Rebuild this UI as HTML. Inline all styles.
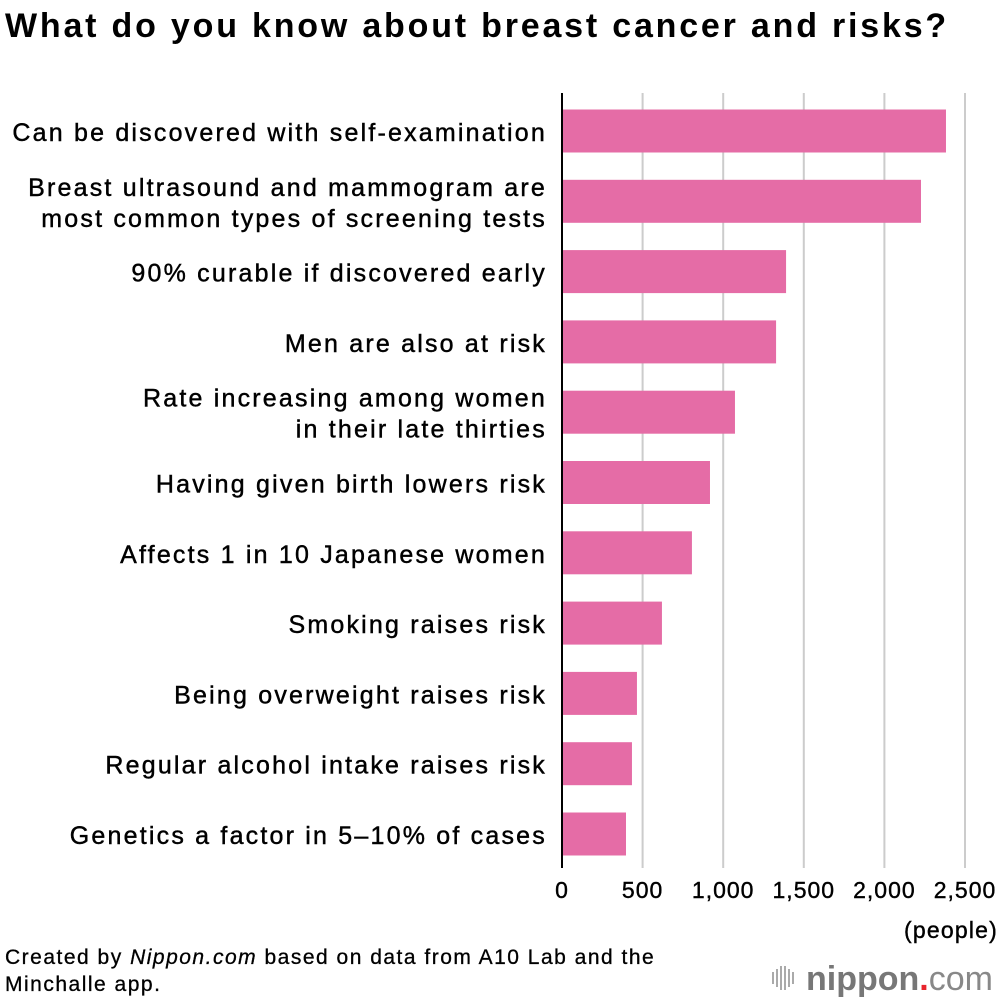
<!DOCTYPE html>
<html><head><meta charset="utf-8"><style>
body{margin:0;background:#fff;}
svg{display:block;font-family:"Liberation Sans",Arial,sans-serif;}
.lbl{font-size:25px;letter-spacing:2.2px;stroke:#000;stroke-width:0.45px;}
</style></head><body>
<svg id="chart" width="1000" height="1000" viewBox="0 0 1000 1000">
<text x="5" y="37" font-size="34" font-weight="bold" letter-spacing="2.8" fill="#000">What do you know about breast cancer and risks?</text>
<g id="grid"></g><g id="bars"></g><g id="labels"></g><g id="ticks"></g>
<line x1="562" y1="93" x2="562" y2="868" stroke="#000" stroke-width="2"/>
<text x="998" y="938" font-size="23" letter-spacing="1.2" stroke="#000" stroke-width="0.4" text-anchor="end">(people)</text>
<text x="5" y="964" font-size="21" letter-spacing="1.5" stroke="#000" stroke-width="0.3">Created by <tspan font-style="italic">Nippon.com</tspan> based on data from A10 Lab and the</text>
<text x="5" y="991" font-size="21" letter-spacing="1.5" stroke="#000" stroke-width="0.3">Minchalle app.</text>
<g>
<g stroke="#aaa" stroke-width="2">
<line x1="773" y1="972" x2="773" y2="984"/><line x1="777" y1="969" x2="777" y2="987"/><line x1="781" y1="966" x2="781" y2="990"/><line x1="785" y1="966" x2="785" y2="990"/><line x1="789" y1="969" x2="789" y2="987"/><line x1="793" y1="972" x2="793" y2="984"/>
</g>
<text x="806" y="990" font-size="34" font-weight="bold" fill="#777">nippon<tspan fill="#e8242c">.</tspan><tspan font-weight="normal" fill="#888">com</tspan></text>
</g>
</svg>
<script>
const categories=[["Can be discovered with self-examination"],["Breast ultrasound and mammogram are","most common types of screening tests"],["90% curable if discovered early"],["Men are also at risk"],["Rate increasing among women","in their late thirties"],["Having given birth lowers risk"],["Affects 1 in 10 Japanese women"],["Smoking raises risk"],["Being overweight raises risk"],["Regular alcohol intake raises risk"],["Genetics a factor in 5–10% of cases"]];
const values=[2382,2227,1390,1328,1073,918,806,620,465,434,397];
const tickValues=[0,500,1000,1500,2000,2500];
const tickLabels=["0","500","1,000","1,500","2,000","2,500"];
const NS="http://www.w3.org/2000/svg";
const x=v=>562+v*0.1612;
const y=i=>131+i*70.3;
function mk(t,a,p){const e=document.createElementNS(NS,t);for(const k in a)e.setAttribute(k,a[k]);p.appendChild(e);return e;}
const grid=document.getElementById('grid'),bars=document.getElementById('bars'),labels=document.getElementById('labels'),ticks=document.getElementById('ticks');
tickValues.forEach((v,i)=>{
 if(v>0){const g=mk('line',{x1:x(v),x2:x(v),y1:93,y2:868,stroke:'#ccc','stroke-width':2},grid);
 
 }
 const t=mk('text',{x:x(v),y:898,'font-size':23,'letter-spacing':1,stroke:'#000','stroke-width':0.4,'text-anchor':'middle'},ticks);t.textContent=tickLabels[i];
 
 
});
values.forEach((v,i)=>{
 const r=mk('rect',{x:x(0),y:y(i)-21.5,width:x(v)-x(0),height:43,fill:'#e56ca6'},bars);
 
 
 const lines=categories[i];
 lines.forEach((s,j)=>{
  const t=mk('text',{x:547,y:y(i)+10+(j-(lines.length-1)/2)*31,'text-anchor':'end','class':'lbl'},labels);
  t.textContent=s;
  
  
 });
});
</script>
</body></html>
